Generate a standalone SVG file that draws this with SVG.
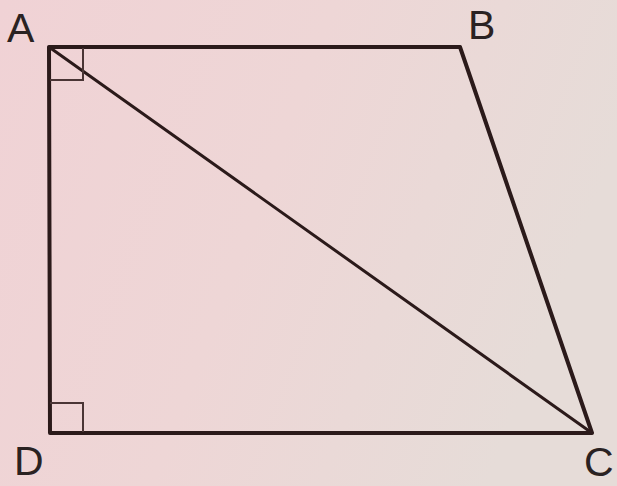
<svg xmlns="http://www.w3.org/2000/svg" width="617" height="486" viewBox="0 0 617 486">
<defs>
<linearGradient id="bg" x1="0" y1="0" x2="1" y2="0.3">
<stop offset="0" stop-color="#f0d2d5"/>
<stop offset="0.5" stop-color="#eed6d6"/>
<stop offset="1" stop-color="#e6dcd8"/>
</linearGradient>
<style>
.edge{stroke:#2b1a1a;stroke-width:4;fill:none;stroke-linecap:round;stroke-linejoin:round}
.diag{stroke:#2b1a1a;stroke-width:3;fill:none;stroke-linecap:round}
.mark{stroke:#4a3535;stroke-width:2;fill:none}
.lbl{font-family:"Liberation Sans",Arial,sans-serif;font-size:41px;fill:#2a2222}
</style>
</defs>
<rect width="617" height="486" fill="url(#bg)"/>
<g id="connectors">
<polyline class="edge" points="460,47 49,47 50,433 592,433 460,47"/>
<line class="diag" x1="49" y1="47" x2="592" y2="433"/>
<polyline class="mark" points="50,80 83,80 83,48"/>
<polyline class="mark" points="50,403 83,403 83,432"/>
</g>
<g id="A"><text class="lbl" x="7" y="42">A</text></g>
<g id="B"><text class="lbl" x="468" y="39">B</text></g>
<g id="C"><text class="lbl" x="584" y="476">C</text></g>
<g id="D"><text class="lbl" x="14" y="475">D</text></g>
</svg>
